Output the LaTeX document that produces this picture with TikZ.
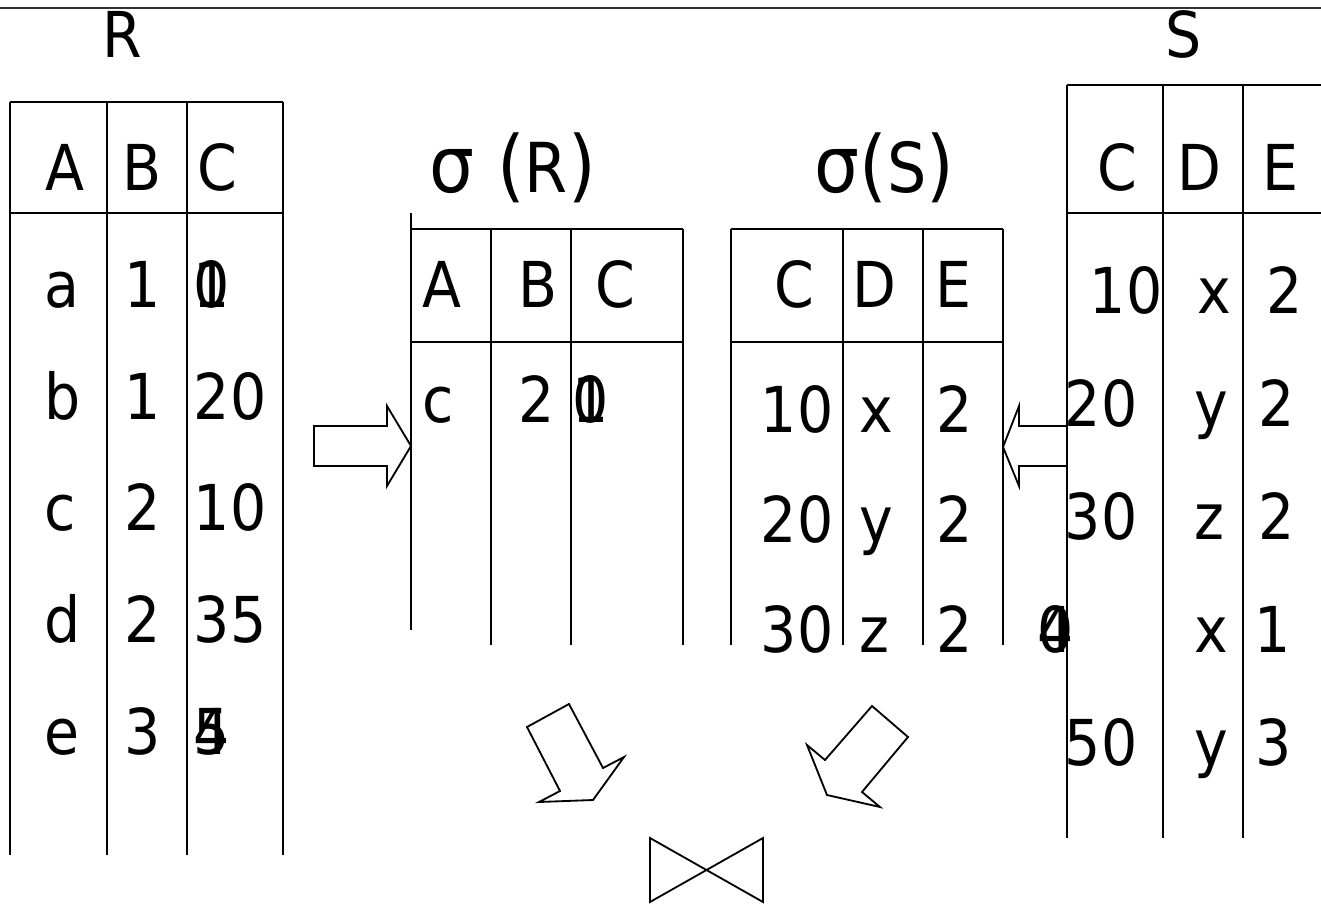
\documentclass[tikz,border=0pt]{standalone}
\usepackage{fontspec}
\setmainfont[FakeStretch=0.9]{DejaVu Sans}
\newcommand{\bigsym}[1]{{\fontsize{56}{60}\selectfont #1}}
\newcommand{\relname}[1]{{\fontsize{49}{56}\selectfont #1}}

\begin{document}
\begin{tikzpicture}[x=0.025cm, y=-0.025cm, line width=1.2pt,
    cell/.style={anchor=base west, inner sep=0pt, font=\fontsize{45}{54}\selectfont},
    blockarrow/.style={draw, line width=1.3pt, line join=miter}]
    \useasboundingbox (0,0) rectangle (1321,903);

    % rule along the top
    \draw [black!80, line width=0.9pt] (0,8) -- (1321,8);

    % relation R
    \node (rname) [cell] at (102,57) {R};
    \draw (10,102) -- (283,102);
    \draw (10,213) -- (283,213);
    \draw (10,102) -- (10,855);
    \draw (107,102) -- (107,855);
    \draw (187,102) -- (187,855);
    \draw (283,102) -- (283,855);
    \node (rA) [cell] at (45,190) {A};
    \node (rB) [cell] at (122,190) {B};
    \node (rC) [cell] at (197,190) {C};
    \node (ra1) [cell] at (44,307) {a};
    \node (rb1) [cell] at (124,307) {1};
    \node (rc1) [cell] at (193,307) {\rlap{1}0};
    \node (ra2) [cell] at (44,419) {b};
    \node (rb2) [cell] at (124,419) {1};
    \node (rc2) [cell] at (193,419) {20};
    \node (ra3) [cell] at (44,530) {c};
    \node (rb3) [cell] at (124,530) {2};
    \node (rc3) [cell] at (193,530) {10};
    \node (ra4) [cell] at (44,642) {d};
    \node (rb4) [cell] at (124,642) {2};
    \node (rc4) [cell] at (193,642) {35};
    \node (ra5) [cell] at (44,754) {e};
    \node (rb5) [cell] at (124,754) {3};
    \node (rc5) [cell] at (193,754) {\rlap{4}5};

    % selection on R
    \node (selR) [cell] at (429,192) {\bigsym{σ (}\relname{R}\bigsym{)}};
    \draw (411,229) -- (683,229);
    \draw (411,342) -- (683,342);
    \draw (411,213) -- (411,630);
    \draw (491,229) -- (491,645);
    \draw (571,229) -- (571,645);
    \draw (683,229) -- (683,645);
    \node (sRA) [cell] at (422,307) {A};
    \node (sRB) [cell] at (518,307) {B};
    \node (sRC) [cell] at (595,307) {C};
    \node (sRa1) [cell] at (422,422) {c};
    \node (sRb1) [cell] at (518,422) {2};
    \node (sRc1) [cell] at (572,422) {\rlap{1}0};

    % selection on S
    \node (selS) [cell] at (814,192) {\bigsym{σ(}\relname{S}\bigsym{)}};
    \draw (731,229) -- (1003,229);
    \draw (731,342) -- (1003,342);
    \draw (731,229) -- (731,645);
    \draw (843,229) -- (843,645);
    \draw (923,229) -- (923,645);
    \draw (1003,229) -- (1003,645);
    \node (sSC) [cell] at (774,307) {C};
    \node (sSD) [cell] at (852,307) {D};
    \node (sSE) [cell] at (935,307) {E};
    \node (sSc1) [cell] at (760,432) {10};
    \node (sSd1) [cell] at (859,432) {x};
    \node (sSe1) [cell] at (936,432) {2};
    \node (sSc2) [cell] at (760,542) {20};
    \node (sSd2) [cell] at (859,542) {y};
    \node (sSe2) [cell] at (936,542) {2};
    \node (sSc3) [cell] at (760,652) {30};
    \node (sSd3) [cell] at (859,652) {z};
    \node (sSe3) [cell] at (936,652) {2};

    % relation S
    \node (sname) [cell] at (1165,57) {S};
    \draw (1067,85) -- (1321,85);
    \draw (1067,213) -- (1321,213);
    \draw (1067,85) -- (1067,838);
    \draw (1163,85) -- (1163,838);
    \draw (1243,85) -- (1243,838);
    \node (SC) [cell] at (1097,190) {C};
    \node (SD) [cell] at (1177,190) {D};
    \node (SE) [cell] at (1262,190) {E};
    \node (Sc1) [cell] at (1089,313) {10};
    \node (Sd1) [cell] at (1197,313) {x};
    \node (Se1) [cell] at (1266,313) {2};
    \node (Sc2) [cell] at (1064,426) {20};
    \node (Sd2) [cell] at (1194,426) {y};
    \node (Se2) [cell] at (1258,426) {2};
    \node (Sc3) [cell] at (1064,539) {30};
    \node (Sd3) [cell] at (1194,539) {z};
    \node (Se3) [cell] at (1258,539) {2};
    \node (Sc4) [cell] at (1037,652) {\rlap{4}0};
    \node (Sd4) [cell] at (1194,652) {x};
    \node (Se4) [cell] at (1254,652) {1};
    \node (Sc5) [cell] at (1064,765) {50};
    \node (Sd5) [cell] at (1194,765) {y};
    \node (Se5) [cell] at (1255,765) {3};

    % block arrows
    \draw [blockarrow] (314,426) -- (387,426) -- (387,406) -- (411,446) -- (387,486) -- (387,466) -- (314,466) -- cycle;
    \draw [blockarrow] (1067,426) -- (1019,426) -- (1019,406) -- (1003,447) -- (1019,486) -- (1019,466) -- (1067,466);
    \draw [blockarrow] (527,727) -- (569,704) -- (603,768) -- (624,757) -- (593,800) -- (539,802) -- (560,791) -- cycle;
    \draw [blockarrow] (872,706) -- (908,737) -- (862,792) -- (880,807) -- (827,795) -- (807,745) -- (825,760) -- cycle;

    % join symbol
    \draw [blockarrow] (650,838) -- (763,902) -- (763,838) -- (650,902) -- cycle;
\end{tikzpicture}
\end{document}
